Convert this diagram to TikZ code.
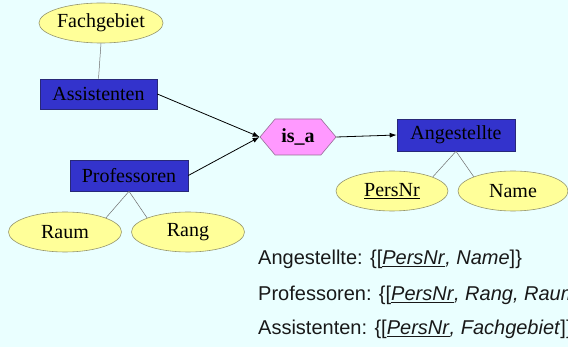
\documentclass[tikz,border=0pt]{standalone}
\usepackage{fontspec}
\setmainfont{Liberation Serif}
\setsansfont{Liberation Sans}
\usetikzlibrary{shapes.geometric,shapes.symbols,arrows.meta}
\definecolor{bg}{RGB}{234,255,255}
\definecolor{boxfill}{RGB}{51,51,204}
\definecolor{boxdraw}{RGB}{40,40,120}
\definecolor{ellfill}{RGB}{255,255,153}
\definecolor{elldraw}{RGB}{150,150,110}
\definecolor{hexfill}{RGB}{255,153,255}
\definecolor{hexdraw}{RGB}{150,110,150}
\definecolor{linkgray}{RGB}{110,110,110}
\tikzset{
  entity/.style={rectangle, draw=boxdraw, line width=0.6pt, fill=boxfill, inner sep=0pt,
    minimum width=118pt, minimum height=31pt, font=\fontsize{20}{24}\selectfont, text=black},
  attr/.style={ellipse, draw=elldraw, line width=0.6pt, fill=ellfill, inner sep=0pt,
    minimum width=112pt, minimum height=40pt, font=\fontsize{20}{24}\selectfont, text=black},
  isashape/.style={signal, signal to=east and west, signal pointer angle=100, draw=hexdraw,
    line width=0.6pt, fill=hexfill, inner sep=0pt, minimum width=76pt, minimum height=36pt,
    font=\fontsize{20}{24}\selectfont\bfseries},
  link/.style={draw=linkgray, line width=0.5pt},
  isarrow/.style={draw=black, line width=0.8pt, -{Latex[length=7pt,width=5pt]}},
  schema/.style={anchor=base west, inner sep=0pt, font=\sffamily\fontsize{20}{24}\selectfont, text=black!90}
}
\begin{document}
\begin{tikzpicture}[x=1pt,y=-1pt]
\useasboundingbox (0,0) rectangle (568,347);
\clip (0,0) rectangle (568,347);
\fill[bg] (0,0) rectangle (568,347);

\node[attr] (fach) at (101,23) {Fachgebiet};
\node[entity, minimum width=117pt, minimum height=30pt] (asst) at (98.5,94) {Assistenten};
\node[entity] (prof) at (129,175.5) {Professoren};
\node[attr, minimum width=113pt] (raum) at (65,232) {Raum};
\node[attr, minimum width=113pt] (rang) at (188,232) {Rang};
\node[isashape] (isa) at (298,137) {is\_a};
\node[entity, minimum height=32pt] (ang) at (456,135) {Angestellte};
\node[attr] (pers) at (392,191) {\underline{PersNr}};
\node[attr, minimum width=110pt] (name) at (513,191) {Name};

\draw[link] (fach.south) -- (asst.north);
\draw[link] (prof.south) -- (raum.19);
\draw[link] (prof.south) -- (rang.161);
\draw[link] (ang.south) -- (pers.19);
\draw[link] (ang.south) -- (name.160);

\draw[isarrow] (asst.east) -- (isa.west);
\draw[isarrow] (prof.east) -- (isa.west);
\draw[isarrow] (isa.east) -- (ang.west);

\node[schema] (s1) at (258,265) {Angestellte: \{[\underline{\textit{PersNr}}\textit{, Name}]\}};
\node[schema] (s2) at (258,301) {Professoren: \{[\underline{\textit{PersNr}}\textit{, Rang, Raum}]\}};
\node[schema] (s3) at (258,335) {Assistenten: \{[\underline{\textit{PersNr}}\textit{, Fachgebiet}]\}};
\end{tikzpicture}
\end{document}
